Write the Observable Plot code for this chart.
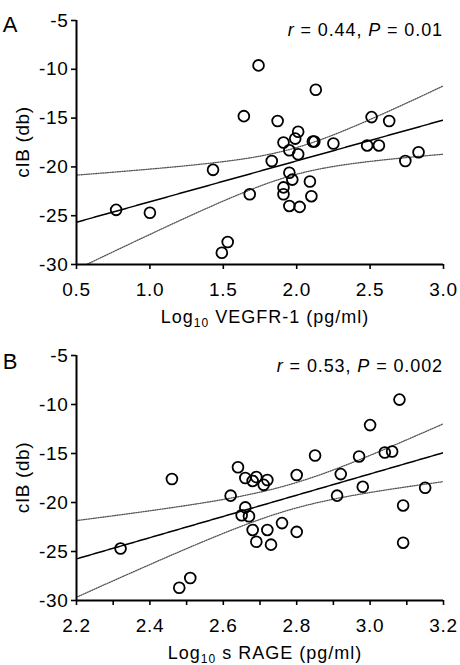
<!DOCTYPE html>
<html><head><meta charset="utf-8">
<script src="https://cdn.jsdelivr.net/npm/d3@7"></script>
<script src="https://cdn.jsdelivr.net/npm/@observablehq/plot@0.6"></script>
<style>
body{margin:0;background:#fff;}
#chart{width:460px;}
#chart svg{display:block;}
</style></head><body><div id="chart"></div>
<script>
// Panel A: Log10 VEGFR-1 vs cIB
const vegfrX = [0.77,1.00,1.43,1.49,1.53,1.64,1.68,1.74,1.83,1.87,1.91,1.91,1.91,1.95,1.95,1.95,1.97,1.99,2.01,2.01,2.02,2.09,2.10,2.11,2.12,2.13,2.25,2.48,2.51,2.56,2.63,2.74,2.83];
const vegfrY = [-24.4,-24.7,-20.3,-28.8,-27.7,-14.8,-22.8,-9.6,-19.4,-15.3,-17.5,-22.1,-22.8,-18.3,-20.6,-24.0,-21.3,-17.1,-16.4,-18.7,-24.1,-21.5,-23.0,-17.4,-17.4,-12.1,-17.6,-17.8,-14.9,-17.8,-15.3,-19.4,-18.5];
// Panel B: Log10 sRAGE vs cIB
const rageX = [2.32,2.46,2.48,2.51,2.62,2.64,2.65,2.66,2.66,2.67,2.68,2.68,2.69,2.69,2.71,2.72,2.72,2.73,2.76,2.80,2.80,2.85,2.91,2.92,2.97,2.98,3.00,3.04,3.06,3.08,3.09,3.09,3.15];
const rageY = [-24.7,-17.6,-28.7,-27.7,-19.3,-16.4,-21.3,-17.5,-20.5,-21.4,-17.8,-22.8,-17.4,-24.0,-18.2,-17.7,-22.8,-24.3,-22.1,-17.2,-23.0,-15.2,-19.3,-17.1,-15.3,-18.4,-12.1,-14.9,-14.8,-9.5,-20.3,-24.1,-18.5];

const xTicksA = [0.5,1.0,1.5,2.0,2.5,3.0];
const xTicksB = [2.2,2.4,2.6,2.8,3.0,3.2];
const minorTicksB = [2.3,2.5,2.7,2.9,3.1];
const yTicks = [-5,-10,-15,-20,-25,-30];
const yDomain = [-30,-5];
const letters = ["A","B"];
const rValues = ["0.44","0.53"];
const pValues = ["0.01","0.002"];
const xTitles = [["Log","10"," VEGFR-1 (pg/ml)"],["Log","10"," s RAGE (pg/ml)"]];
const yTitle = "cIB (db)";

const FONT = "'Liberation Sans', Arial, Helvetica, sans-serif";

function regress(xs, ys, x0, x1) {
  const n = xs.length;
  const mx = d3.mean(xs), my = d3.mean(ys);
  let sxx = 0, sxy = 0;
  for (let i = 0; i < n; i++) { sxx += (xs[i]-mx)**2; sxy += (xs[i]-mx)*(ys[i]-my); }
  const b = sxy/sxx, a = my - b*mx;
  let sse = 0;
  for (let i = 0; i < n; i++) sse += (ys[i]-a-b*xs[i])**2;
  const s = Math.sqrt(sse/(n-2));
  const t = 2.0395; // t(0.975, df = 31)
  return d3.range(0, 201).map(i => {
    const x = x0 + (x1-x0)*i/200;
    const f = a + b*x;
    const h = t*s*Math.sqrt(1/n + (x-mx)**2/sxx);
    return {x, fit: f, lo: f-h, hi: f+h};
  });
}

function panel(idx, xs, ys, xDomain, ticks, minor, height, marginBottom) {
  const pts = xs.map((x,i) => ({x, y: ys[i]}));
  const band = regress(xs, ys, xDomain[0], xDomain[1]);
  const marks = [
    Plot.line(band, {x:"x", y:"hi", stroke:"#555", strokeWidth:1.3, strokeDasharray:"1.1,1.3", clip:true}),
    Plot.line(band, {x:"x", y:"lo", stroke:"#555", strokeWidth:1.3, strokeDasharray:"1.1,1.3", clip:true}),
    Plot.line(band, {x:"x", y:"fit", stroke:"black", strokeWidth:1.5, clip:true}),
    Plot.dot(pts, {x:"x", y:"y", r:5.4, stroke:"black", strokeWidth:1.8, fill:"none"}),
    Plot.ruleX([xDomain[0]], {y1: yDomain[0], y2: yDomain[1], stroke:"black", strokeWidth:2}),
    Plot.ruleY([yDomain[0]], {x1: xDomain[0], x2: xDomain[1], stroke:"black", strokeWidth:2}),
    Plot.axisX(ticks, {tickSize:5, tickPadding:13, strokeWidth:1.6, fontSize:19, tickFormat: d => d.toFixed(1), label:null}),
    Plot.axisY(yTicks, {tickSize:5, tickPadding:3, strokeWidth:1.6, fontSize:19, tickFormat: d => String(d), label:null})
  ];
  if (minor) marks.push(Plot.axisX(minor, {tickSize:5, strokeWidth:1.6, tickFormat: () => "", label:null}));
  const chart = Plot.plot({
    width: 460, height, marginLeft: 76, marginRight: 17, marginTop: 20, marginBottom,
    style: {fontFamily: FONT, fontSize: "19px", color: "black", background: "white", overflow: "visible", letterSpacing: "0.7px"},
    x: {domain: xDomain},
    y: {domain: yDomain},
    marks
  });
  const svg = d3.select(chart);
  const plotBottom = height - marginBottom;
  const cy = (20 + plotBottom)/2;
  // panel letter
  svg.append("text").attr("x", 10).attr("y", idx === 0 ? 31.5 : 34.3)
    .attr("font-size", 22).attr("font-family", FONT).style("letter-spacing", "0px").text(letters[idx]);
  // stats text
  const st = svg.append("text").attr("x", 443).attr("y", idx === 0 ? 36 : 37.3)
    .attr("text-anchor","end").attr("font-size", 18).attr("font-family", FONT)
    .style("letter-spacing", "0.9px");
  st.append("tspan").attr("font-style","italic").text("r");
  st.append("tspan").text(" = " + rValues[idx] + ", ");
  st.append("tspan").attr("font-style","italic").text("P");
  st.append("tspan").text(" = " + pValues[idx]);
  // y title
  svg.append("text").attr("transform", `translate(29,${cy}) rotate(-90)`)
    .attr("text-anchor","middle").attr("font-size", 19).attr("font-family", FONT)
    .style("letter-spacing", "0.6px").text(yTitle);
  // x title
  const xt = svg.append("text").attr("x", 265).attr("y", plotBottom + 58.5)
    .attr("text-anchor","middle").attr("font-size", 18).attr("font-family", FONT)
    .style("letter-spacing", "1px");
  xt.append("tspan").text(xTitles[idx][0]);
  xt.append("tspan").attr("font-size", 12).attr("dy", 4).text(xTitles[idx][1]);
  xt.append("tspan").attr("dy", -4).text(xTitles[idx][2]);
  return chart;
}

const root = document.getElementById("chart");
root.appendChild(panel(0, vegfrX, vegfrY, [0.5, 3.0], xTicksA, null, 335, 71));
root.appendChild(panel(1, rageX, rageY, [2.2, 3.2], xTicksB, minorTicksB, 330, 65));
</script>
</body></html>
